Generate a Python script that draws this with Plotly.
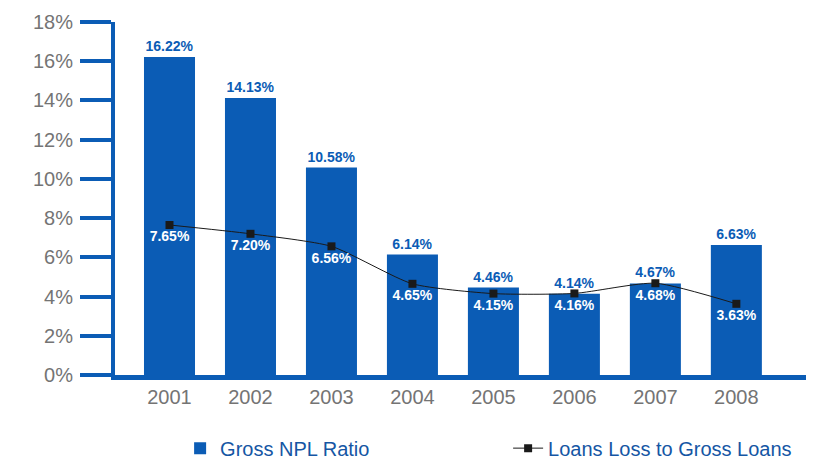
import plotly.graph_objects as go

# Categories and series values
years = ["2001", "2002", "2003", "2004", "2005", "2006", "2007", "2008"]
gross_npl_ratio = [16.22, 14.13, 10.58, 6.14, 4.46, 4.14, 4.67, 6.63]
loan_loss_to_gross = [7.65, 7.20, 6.56, 4.65, 4.15, 4.16, 4.68, 3.63]
y_ticks = [0, 2, 4, 6, 8, 10, 12, 14, 16, 18]
y_tick_labels = [f"{v}%" for v in y_ticks]

BLUE = "#0b5cb5"
GRAY = "#747474"
FONT = "Liberation Sans, Arial, sans-serif"

fig = go.Figure()

fig.add_trace(go.Bar(
    x=years,
    y=gross_npl_ratio,
    name="Gross NPL Ratio",
    marker=dict(color=BLUE, line=dict(width=0)),
    text=[f"{v:.2f}%" for v in gross_npl_ratio],
    textposition="outside",
    textfont=dict(family=FONT, size=14, color=BLUE, weight="bold"),
    cliponaxis=False,
))

fig.add_trace(go.Scatter(
    x=years,
    y=loan_loss_to_gross,
    name="Loans Loss to Gross Loans",
    mode="lines+markers+text",
    line=dict(color="#1a1a1a", width=1, shape="spline", smoothing=0.6),
    marker=dict(symbol="square", size=8, color="#1a1a1a"),
    text=[f"{v:.2f}%" for v in loan_loss_to_gross],
    textposition="bottom center",
    textfont=dict(family=FONT, size=14, color="white", weight="bold"),
    cliponaxis=False,
))

fig.update_layout(
    width=815,
    height=462,
    margin=dict(l=115, r=9, t=22, b=87),
    paper_bgcolor="white",
    plot_bgcolor="white",
    bargap=0.37,
    font=dict(family=FONT, color=GRAY),
    showlegend=True,
    legend=dict(
        orientation="h",
        xref="container",
        yref="container",
        x=0.221,
        xanchor="left",
        y=0.03,
        yanchor="middle",
        entrywidth=283,
        entrywidthmode="pixels",
        font=dict(family=FONT, size=20, color="#1556a4"),
        bgcolor="rgba(0,0,0,0)",
    ),
    xaxis=dict(
        type="category",
        range=[-0.673, 7.86],
        showgrid=False,
        showline=True,
        linecolor=BLUE,
        linewidth=5,
        ticks="",
        tickfont=dict(family=FONT, size=20, color=GRAY),
        zeroline=False,
    ),
    yaxis=dict(
        range=[0, 18],
        tickvals=y_ticks,
        ticktext=y_tick_labels,
        showgrid=False,
        zeroline=False,
        showline=True,
        linecolor=BLUE,
        linewidth=4,
        ticks="outside",
        ticklen=31,
        tickwidth=4,
        tickcolor=BLUE,
        ticklabelstandoff=3,
        tickfont=dict(family=FONT, size=20, color=GRAY),
    ),
)

fig.write_html("out.html")
